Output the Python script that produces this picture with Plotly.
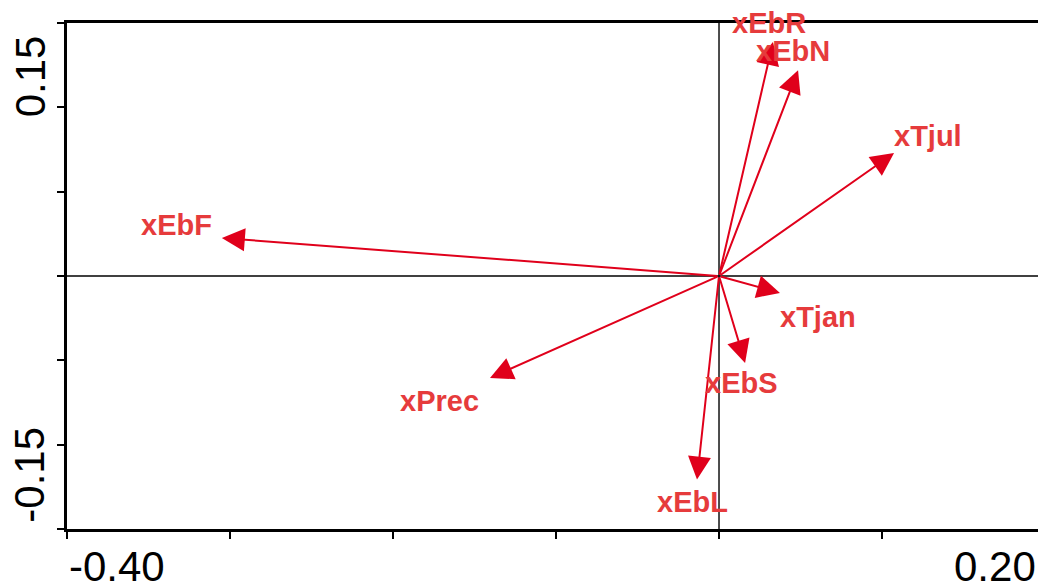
import plotly.graph_objects as go

# Biplot vectors: environmental variables (axis 1, axis 2)
variables = ["xEbR", "xEbN", "xTjul", "xEbF", "xTjan", "xEbS", "xPrec", "xEbL"]
axis1 = [0.0331, 0.0485, 0.1074, -0.3050, 0.0374, 0.0160, -0.1405, -0.0135]
axis2 = [0.2080, 0.1830, 0.1093, 0.0338, -0.0151, -0.0773, -0.0907, -0.1810]

# Label offsets from each arrow tip, in pixels (dx right, dy up)
label_dx = [-4, -5, 34, -45, 38, -4, -50, -5]
label_dy = [19, 19, 17, 13, -24, -20, -23, -22]

x_range = [-0.40, 0.1957]
y_range = [-0.225, 0.225]
x_ticks = [-0.40, -0.30, -0.20, -0.10, 0.0, 0.10]
y_ticks = [-0.225, -0.15, -0.075, 0.0, 0.075, 0.15, 0.225]

ARROW = "#e0001b"
LABEL = "#e63b3c"

fig = go.Figure()
# invisible trace so the axes are drawn
fig.add_trace(go.Scatter(x=[0], y=[0], mode="markers",
                         marker=dict(size=1, color="rgba(0,0,0,0)"),
                         hoverinfo="skip", showlegend=False))

annotations = []
for vx, vy in zip(axis1, axis2):
    annotations.append(dict(
        x=vx, y=vy, ax=0, ay=0, xref="x", yref="y", axref="x", ayref="y",
        text="", showarrow=True, arrowhead=2, arrowsize=2.3, arrowwidth=2,
        arrowcolor=ARROW, standoff=0,
    ))
for name, vx, vy, dx, dy in zip(variables, axis1, axis2, label_dx, label_dy):
    annotations.append(dict(
        x=vx, y=vy, xref="x", yref="y", text=name, showarrow=False,
        xshift=dx, yshift=dy, xanchor="center", yanchor="middle",
        font=dict(family="Liberation Sans, Arial, sans-serif", size=29,
                  color=LABEL, weight="bold"),
    ))

axis_font = dict(family="Liberation Sans, Arial, sans-serif", size=42, color="black")
# end labels of the axes
annotations += [
    dict(x=0, y=0, xref="paper", yref="paper", text="-0.40", showarrow=False,
         xanchor="left", yanchor="top", yshift=-12, font=axis_font),
    dict(x=1, y=0, xref="paper", yref="paper", text="0.20", showarrow=False,
         xanchor="right", yanchor="top", yshift=-12, font=axis_font),
    dict(x=0, y=0.15, xref="paper", yref="y", text="0.15", showarrow=False,
         textangle=-90, xanchor="center", xshift=-37, yshift=31, font=axis_font),
    dict(x=0, y=-0.15, xref="paper", yref="y", text="-0.15", showarrow=False,
         textangle=-90, xanchor="center", xshift=-37, yshift=-30, font=axis_font),
]

fig.update_layout(
    width=1038, height=588,
    margin=dict(l=67, r=0, t=23, b=59),
    paper_bgcolor="white", plot_bgcolor="white",
    annotations=annotations,
    shapes=[
        dict(type="line", xref="x", yref="paper", x0=0, x1=0, y0=0, y1=1,
             line=dict(color="black", width=1.4), layer="below"),
        dict(type="line", xref="paper", yref="y", x0=0, x1=1, y0=0, y1=0,
             line=dict(color="black", width=1.4), layer="below"),
    ],
    xaxis=dict(range=x_range, tickvals=x_ticks, showticklabels=False,
               ticks="outside", ticklen=7, tickwidth=2, tickcolor="black",
               showline=True, linewidth=2.5, linecolor="black", mirror=True,
               showgrid=False, zeroline=False),
    yaxis=dict(range=y_range, tickvals=y_ticks, showticklabels=False,
               ticks="outside", ticklen=7, tickwidth=2, tickcolor="black",
               showline=True, linewidth=2.5, linecolor="black",
               showgrid=False, zeroline=False),
)

fig.write_html("out.html")
